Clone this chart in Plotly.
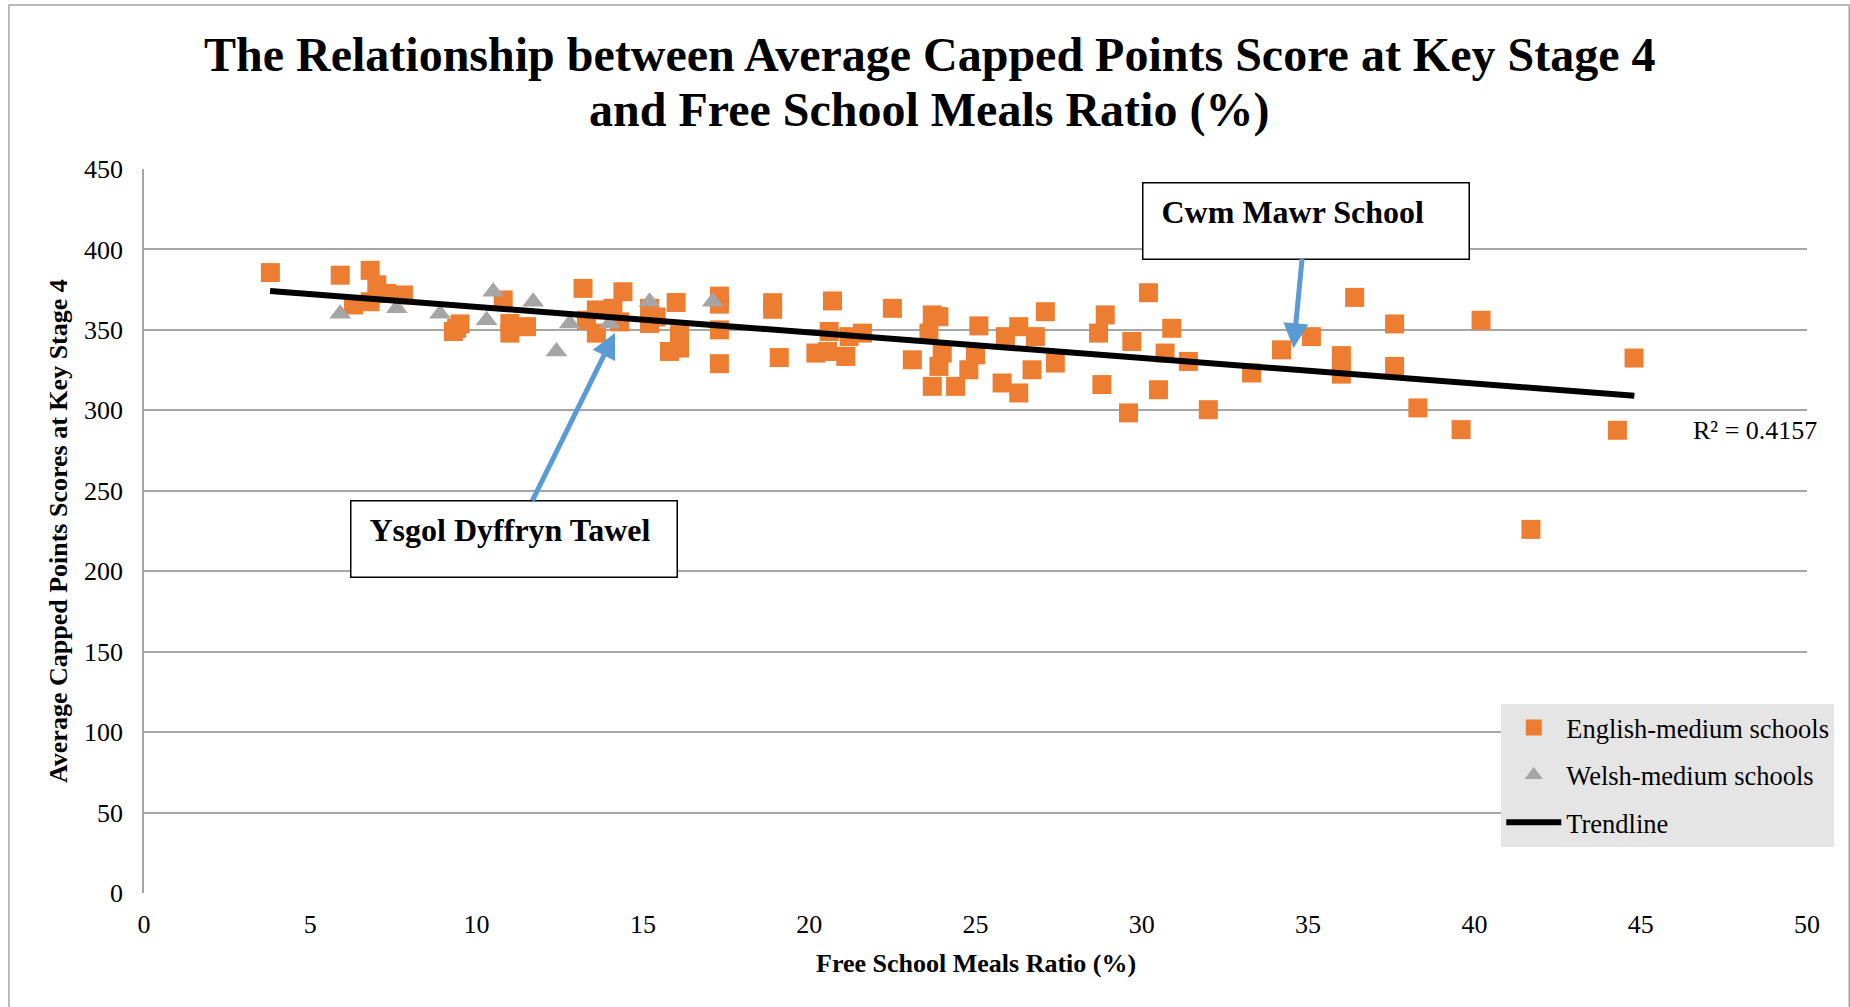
import plotly.graph_objects as go

# ---------------- data ----------------
english_fsm = [3.8, 5.9, 6.8, 7.0, 6.3, 6.8, 7.3, 7.8, 9.4, 9.5, 9.3, 10.8, 11.0, 11.0, 11.5,
               13.2, 13.3, 13.6, 13.6, 14.1, 14.4, 14.3, 15.2, 15.2, 15.4, 16.0, 16.1, 16.1, 15.8,
               17.3, 17.3, 17.3, 17.3, 18.9, 18.9, 19.1, 20.7, 20.6, 20.2, 20.55, 21.1, 21.2, 21.6,
               22.5, 23.1, 23.7, 23.9, 23.6, 24.0, 23.9, 23.7, 24.4, 25.1, 25.0, 24.8, 25.9, 25.8,
               26.3, 26.8, 26.3, 27.1, 26.7, 27.4, 28.9, 28.7, 28.8, 29.7, 29.6, 30.2, 30.9, 30.7,
               30.5, 31.4, 32.0, 33.3, 34.2, 35.1, 36.0, 36.0, 36.0, 36.4, 37.6, 37.6, 38.3, 39.6,
               40.2, 41.7, 44.3, 44.8]
english_score = [385.6, 384, 387, 378, 365.5, 367.5, 372.7, 371.7, 351, 353.7, 349, 368.6, 354, 348, 352,
                 375.8, 356, 348, 362.4, 363.4, 373.7, 355, 363.4, 354, 358, 367, 347, 338.7, 336.6,
                 371, 366, 350, 329, 366.9, 362.8, 332.8, 368, 349, 335.6, 336.6, 333.5, 345.8, 348,
                 363.4, 331.4, 359.3, 358.2, 348, 335.6, 327.3, 314.9, 314.9, 352.5, 334.5, 325.2, 345.8, 317,
                 352, 345.8, 310.8, 361.3, 325.2, 329.4, 359.3, 348, 316, 342.8, 298.4, 373.1, 351, 335.6,
                 312.8, 330.4, 300.4, 323.2, 337.6, 345.8, 334, 328, 322.5, 370.2, 353.7, 327.3, 301.5, 288,
                 356, 226, 287.6, 332.5]

welsh_fsm = [5.9, 7.6, 8.9, 10.5, 10.3, 11.7, 12.8, 12.4, 14.0, 15.2, 17.1]
welsh_score = [360, 363.4, 360, 373.7, 356, 367.5, 354, 336.6, 354, 367.5, 367.5]

trend_fsm = [3.79, 44.81]
trend_score = [374.2, 309.0]

x_ticks = [0, 5, 10, 15, 20, 25, 30, 35, 40, 45, 50]
y_ticks = [0, 50, 100, 150, 200, 250, 300, 350, 400, 450]

title_line1 = "The Relationship between Average Capped Points Score at Key Stage 4"
title_line2 = "and Free School Meals Ratio (%)"
x_title = "Free School Meals Ratio (%)"
y_title = "Average Capped Points Scores at Key Stage 4"
r2_label = "R² = 0.4157"

callouts = [
    # label, target (x, y), box centre (x, y)
    ("Cwm Mawr School", (34.56, 338.6), (34.93, 417.9)),
    ("Ysgol Dyffryn Tawel", (14.16, 348.1), (11.11, 220.1)),
]

FONT = "Liberation Serif, Times New Roman, serif"
ORANGE = "#ED7D31"
GREY = "#A5A5A5"
BLUE = "#5B9BD5"
GRID = "#A6A6A6"

fig = go.Figure()
fig.add_trace(go.Scatter(
    x=english_fsm, y=english_score, mode="markers", name="English-medium schools",
    legendgroup="a",
    marker=dict(symbol="square", size=19, color=ORANGE, line=dict(width=0)),
))
fig.add_trace(go.Scatter(
    x=welsh_fsm, y=welsh_score, mode="markers", name="Welsh-medium schools",
    legendgroup="b",
    marker=dict(symbol="triangle-up", size=19, color=GREY, line=dict(width=0)),
))
fig.add_trace(go.Scatter(
    x=trend_fsm, y=trend_score, mode="lines", name="Trendline",
    legendgroup="c",
    line=dict(color="black", width=6),
))

annotations = []
for label, (tx, ty), (bx, by) in callouts:
    annotations.append(dict(
        x=tx, y=ty, xref="x", yref="y", ax=bx, ay=by, axref="x", ayref="y",
        text="\u00a0<b>" + label + "</b>", showarrow=True,
        arrowhead=2, arrowsize=1, arrowwidth=5, arrowcolor=BLUE,
        font=dict(family=FONT, size=32, color="black"),
        bgcolor="white", bordercolor="black", borderwidth=1.5, borderpad=10,
        width=305, height=55, valign="top", align="left",
    ))

annotations += [
    dict(text="<b>" + title_line1 + "</b>", xref="paper", yref="paper", x=0.4721, y=1.1588,
         xanchor="center", yanchor="middle", showarrow=False,
         font=dict(family=FONT, size=48, color="black")),
    dict(text="<b>" + title_line2 + "</b>", xref="paper", yref="paper", x=0.4721, y=1.0815,
         xanchor="center", yanchor="middle", showarrow=False,
         font=dict(family=FONT, size=48, color="black")),
    dict(text="<b>" + x_title + "</b>", xref="paper", yref="paper", x=0.5, y=-0.0976,
         xanchor="center", yanchor="middle", showarrow=False,
         font=dict(family=FONT, size=26, color="black")),
    dict(text="<b>" + y_title + "</b>", xref="paper", yref="paper", x=-0.0517, y=0.5,
         xanchor="center", yanchor="middle", showarrow=False, textangle=-90,
         font=dict(family=FONT, size=26, color="black")),
    dict(text=r2_label, xref="x", yref="y", x=48.45, y=287.2,
         xanchor="center", yanchor="middle", showarrow=False,
         font=dict(family=FONT, size=26, color="black")),
]

fig.update_layout(
    width=1850, height=1007,
    margin=dict(l=144, r=43.3, t=169, b=113.7),
    paper_bgcolor="white", plot_bgcolor="white",
    font=dict(family=FONT, size=26, color="black"),
    showlegend=True,
    legend=dict(
        x=1.0164, y=0.2614, xanchor="right", yanchor="top",
        bgcolor="#E5E5E5", borderwidth=0,
        font=dict(family=FONT, size=26.5, color="black"),
        traceorder="grouped", tracegroupgap=10, itemwidth=55,
    ),
    annotations=annotations,
    shapes=[dict(type="rect", xref="paper", yref="paper",
                 x0=-0.0812, x1=1.0254, y0=-0.2, y1=1.2264,
                 line=dict(color=GRID, width=1.5), fillcolor="rgba(0,0,0,0)", layer="below")],
)
fig.update_xaxes(
    range=[0, 50], tickvals=x_ticks, ticktext=[str(v) for v in x_ticks],
    showgrid=False, zeroline=False, showline=False,
    ticks="outside", ticklen=8, tickcolor="rgba(0,0,0,0)",
    tickfont=dict(family=FONT, size=26, color="black"),
)
fig.update_yaxes(
    range=[0, 450], tickvals=y_ticks, ticktext=[str(v) for v in y_ticks],
    showgrid=True, gridcolor=GRID, gridwidth=1.5, zeroline=False,
    showline=True, linecolor=GRID, linewidth=1.5,
    ticks="outside", ticklen=14, tickcolor="rgba(0,0,0,0)",
    tickfont=dict(family=FONT, size=26, color="black"),
)

fig.write_html("out.html", config={"displayModeBar": False},
               post_script="document.body.style.margin='0';document.body.style.overflow='hidden';")
